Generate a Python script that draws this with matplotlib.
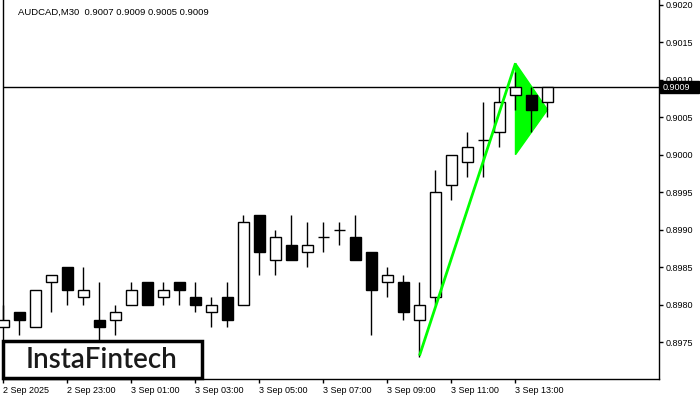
import numpy as np, pandas as pd, matplotlib.pyplot as plt
from matplotlib.patches import Rectangle, Polygon
import matplotlib.transforms as mtransforms

# AUDCAD M30 candles from 2 Sep 21:00 to 3 Sep 14:00
opens  = [0.8977, 0.8979, 0.8977, 0.8983, 0.8985, 0.8981, 0.8978, 0.8978, 0.8980, 0.8983,
          0.8981, 0.8983, 0.8981, 0.8979, 0.8981, 0.8980, 0.8992, 0.8986, 0.8988, 0.8987,
          0.8989, 0.8990, 0.8989, 0.8987, 0.8983, 0.8983, 0.8978, 0.8981, 0.8996, 0.8999,
          0.9002, 0.9003, 0.9008, 0.9008, 0.9007]
highs  = [0.8980, 0.8979, 0.8982, 0.8984, 0.8985, 0.8985, 0.8983, 0.8980, 0.8983, 0.8983,
          0.8983, 0.8983, 0.8983, 0.8981, 0.8983, 0.8992, 0.8992, 0.8990, 0.8992, 0.8991,
          0.8991, 0.8991, 0.8992, 0.8987, 0.8985, 0.8984, 0.8983, 0.8998, 0.9000, 0.9003,
          0.9007, 0.9009, 0.9011, 0.9009, 0.9009]
lows   = [0.8977, 0.8976, 0.8977, 0.8979, 0.8980, 0.8980, 0.8975, 0.8976, 0.8980, 0.8980,
          0.8980, 0.8980, 0.8979, 0.8977, 0.8977, 0.8980, 0.8984, 0.8984, 0.8986, 0.8985,
          0.8987, 0.8988, 0.8986, 0.8976, 0.8981, 0.8978, 0.8973, 0.8980, 0.8994, 0.8997,
          0.8997, 0.9001, 0.9006, 0.9003, 0.9005]
closes = [0.8978, 0.8978, 0.8982, 0.8984, 0.8982, 0.8982, 0.8977, 0.8979, 0.8982, 0.8980,
          0.8982, 0.8982, 0.8980, 0.8980, 0.8978, 0.8991, 0.8987, 0.8989, 0.8986, 0.8988,
          0.8989, 0.8990, 0.8986, 0.8982, 0.8984, 0.8979, 0.8980, 0.8995, 0.9000, 0.9001,
          0.9002, 0.9007, 0.9009, 0.9006, 0.9009]
times = pd.date_range("2025-09-02 21:00", periods=len(opens), freq="30min")

# bullish pennant: pole and flag (bar index, price)
pole_x = [26, 32]
pole_y = [0.89732, 0.90122]
flag_x = [32, 32, 34]
flag_y = [0.90122, 0.90000, 0.90060]

y_ticks = [0.8975, 0.8980, 0.8985, 0.8990, 0.8995, 0.9000, 0.9005, 0.9010, 0.9015, 0.9020]
last_price = closes[-1]

plt.rcParams['font.family'] = ['Liberation Sans', 'DejaVu Sans']
green = '#00ff00'

fig = plt.figure(figsize=(7, 4), dpi=100)
ax = fig.add_axes([3/700, 21/400, 656/700, 379/400])

x = np.arange(len(opens))
w = 0.66
for i in x:
    o, h, l, c = opens[i], highs[i], lows[i], closes[i]
    ax.vlines(i, l, h, color='black', lw=1, zorder=3, clip_on=False)
    if o == c:
        ax.hlines(o, i - w/2, i + w/2, color='black', lw=1, zorder=4, clip_on=False)
    else:
        fc = 'white' if c > o else 'black'
        ax.add_patch(Rectangle((i - w/2, min(o, c)), w, abs(c - o), facecolor=fc,
                               edgecolor='black', lw=1, zorder=4, clip_on=False))

# pennant pattern
ax.add_patch(Polygon(list(zip(flag_x, flag_y)), closed=True, facecolor=green,
                     edgecolor=green, lw=1, zorder=2))
ax.plot(pole_x, pole_y, color=green, lw=2, zorder=5, solid_capstyle='butt')

# current price line
ax.axhline(last_price, color='black', lw=1, zorder=1)

ax.set_xlim(-0.03, 40.97)
ax.set_ylim(0.897009, 0.902063)

# axes frame like the terminal
ax.spines['top'].set_visible(False)
for s in ['left', 'right', 'bottom']:
    ax.spines[s].set_linewidth(1)
    ax.spines[s].set_color('black')

ax.yaxis.tick_right()
ax.set_yticks(y_ticks)
ax.set_yticklabels([f"{v:.4f}" for v in y_ticks])
ax.tick_params(axis='y', direction='out', length=3, width=1, pad=1.5, labelsize=6.5, colors='black')

xt = x[::4]
xl = [f"{times[0].day} {times[0]:%b %Y}"] + [f"{t.day} {t:%b %H:%M}" for t in times[4::4]]
ax.set_xticks(xt)
ax.set_xticklabels(xl, ha='left')
ax.tick_params(axis='x', direction='out', length=3, width=1, pad=2, labelsize=6.5, colors='black')

# black price tag on the right axis
trans = mtransforms.blended_transform_factory(ax.transAxes, ax.transData)
ax.add_patch(Rectangle((1.0015, last_price - 0.000077), 0.0595, 0.000154, transform=trans,
                       facecolor='black', edgecolor='black', clip_on=False, zorder=6))
ax.text(1.006, last_price, f"{last_price:.4f}", transform=trans, color='white',
        fontsize=6.5, va='center', ha='left', zorder=7, clip_on=False)

# header
fig.text(18/700, 1 - 12/400, "AUDCAD,M30  0.9007 0.9009 0.9005 0.9009",
         fontsize=6.8, va='center', ha='left', color='black')

# logo box
fig.patches.append(Rectangle((3/700, 22/400), 199/700, 37/400, transform=fig.transFigure,
                             facecolor='white', edgecolor='black', lw=2.5, zorder=10))
fig.text(102/700, 1 - 360/400, "InstaFintech", family=['Lato', 'DejaVu Sans'],
         fontsize=20, weight='semibold', color='#1a1a1a', ha='center', va='center', zorder=11)

plt.savefig("out.png", dpi=100)
